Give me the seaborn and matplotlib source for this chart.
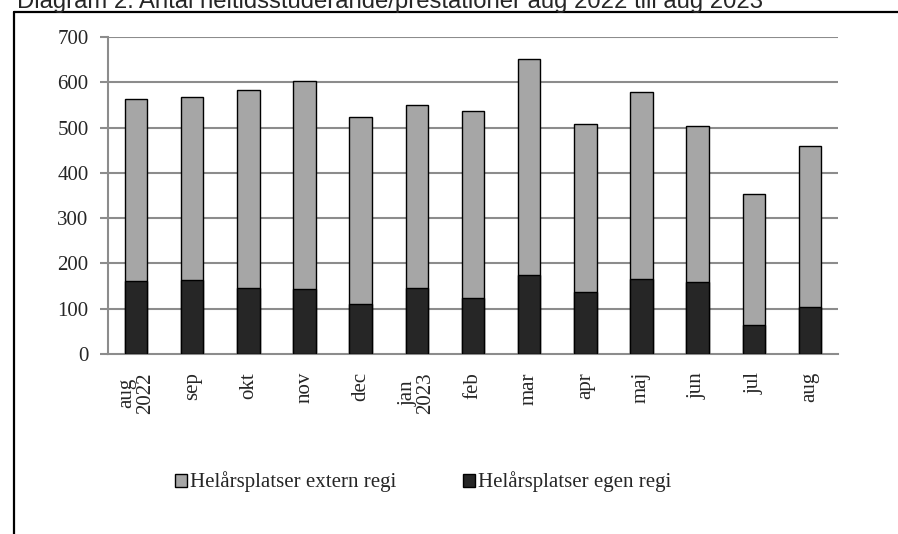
import pandas as pd
import numpy as np
import matplotlib.pyplot as plt
import seaborn as sns
from matplotlib.lines import Line2D
from matplotlib.patches import Patch

# Values
months = ['aug\n2022', 'sep', 'okt', 'nov', 'dec', 'jan\n2023', 'feb',
          'mar', 'apr', 'maj', 'jun', 'jul', 'aug']
egen_regi = [162, 163, 146, 144, 110, 146, 123, 174, 137, 166, 158, 65, 104]
extern_regi = [400, 404, 437, 459, 414, 404, 413, 477, 371, 413, 346, 289, 355]

df = pd.DataFrame({'month': months, 'egen': egen_regi, 'extern': extern_regi})
df['total'] = df['egen'] + df['extern']

sns.set_style('white')
plt.rcParams['font.family'] = ['Liberation Serif', 'DejaVu Serif']

fig = plt.figure(figsize=(8.98, 5.34), dpi=100)
ax = fig.add_axes([108 / 898, 1 - 354 / 534, 730 / 898, 317 / 534])

grid_c = '#8c8c8c'
for v in range(100, 701, 100):
    ax.axhline(v, color=grid_c, lw=1.5, zorder=0)

# stacked bars: total (extern on top) then egen regi over it
sns.barplot(data=df, x='month', y='total', color='#a6a6a6', width=0.4,
            edgecolor='black', linewidth=1, saturation=1, ax=ax, zorder=2)
sns.barplot(data=df, x='month', y='egen', color='#262626', width=0.4,
            edgecolor='black', linewidth=1, saturation=1, ax=ax, zorder=3)

ax.set_xlim(-0.5, len(months) - 0.5)
ax.set_ylim(0, 700)
ax.set_yticks(range(0, 701, 100))
ax.set_yticklabels([str(v) for v in range(0, 701, 100)], fontsize=15)
ax.set_xticks(range(len(months)))
ax.set_xticklabels(months, rotation=90, fontsize=15, linespacing=0.95)
ax.set_xticks(np.arange(-0.5, len(months), 1), minor=True)
ax.tick_params(axis='x', which='major', length=0, pad=13)
ax.tick_params(axis='x', which='minor', length=5, width=1.5, color=grid_c)
ax.tick_params(axis='y', length=6, width=1.5, color=grid_c, pad=8, left=True)
ax.set_xlabel('')
ax.set_ylabel('')
for s in ['top', 'right']:
    ax.spines[s].set_visible(False)
for s in ['left', 'bottom']:
    ax.spines[s].set_color(grid_c)
    ax.spines[s].set_linewidth(1.5)

handles = [Patch(facecolor='#a6a6a6', edgecolor='black', lw=1),
           Patch(facecolor='#262626', edgecolor='black', lw=1)]
fig.legend(handles, ['Helårsplatser extern regi', 'Helårsplatser egen regi'],
           loc='center left', bbox_to_anchor=(156 / 898, 1 - 482 / 534),
           ncol=2, frameon=False, fontsize=15, handlelength=0.58,
           handleheight=0.58, handletextpad=0.15, columnspacing=3.2)

# outer frame (left and top edges visible)
fig.add_artist(Line2D([14 / 898, 14 / 898], [0, 1 - 11.5 / 534], color='black', lw=1.6))
fig.add_artist(Line2D([14 / 898, 1], [1 - 11.5 / 534, 1 - 11.5 / 534], color='black', lw=1.6))

fig.text(17 / 898, 1 - 8 / 534,
         'Diagram 2. Antal heltidsstuderande/prestationer aug 2022 till aug 2023',
         family=['Liberation Sans', 'DejaVu Sans'], fontsize=17.2, va='baseline')

fig.savefig('out.png', dpi=100)
